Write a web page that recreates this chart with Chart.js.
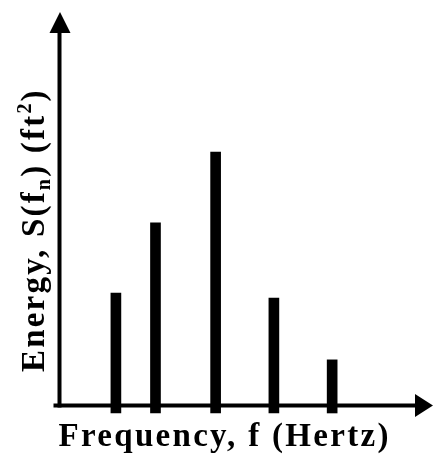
<!DOCTYPE html>
<html>
<head>
<meta charset="utf-8">
<script src="https://cdn.jsdelivr.net/npm/chart.js@4.4.1/dist/chart.umd.min.js"></script>
<style>
  html, body { margin: 0; padding: 0; background: #fff; }
  #wrap { width: 434px; height: 455px; }
</style>
</head>
<body>
<div id="wrap"><canvas id="spectrum" width="434" height="455"></canvas></div>
<script>
// values (arbitrary units, axes have no ticks)
const frequencies = [1.51, 2.57, 4.18, 5.74, 7.30];
const energies = [2.86, 4.64, 6.44, 2.73, 1.16];
const xRange = [0, 10];
const yRange = [0, 10];

const xTitle = [{ t: 'Frequency, f (Hertz)' }];
const yTitle = [
  { t: 'Energy, S(f' },
  { t: 'n', sub: true },
  { t: ') (ft' },
  { t: '2', sup: true },
  { t: ')' }
];

const FONT = "'Liberation Serif', 'DejaVu Serif', serif";

// draws a title made of pieces, some as sub/superscript
function drawRich(ctx, parts, size, spacing) {
  let x = 0;
  parts.forEach(p => {
    const s = (p.sub || p.sup) ? Math.round(size * 0.62) : size;
    ctx.font = `bold ${s}px ${FONT}`;
    ctx.letterSpacing = spacing + 'px';
    let dy = 0;
    if (p.sub) dy = size * 0.18;
    if (p.sup) dy = -size * 0.4;
    ctx.fillText(p.t, x, dy);
    x += ctx.measureText(p.t).width;
  });
}

const axesPlugin = {
  id: 'arrowAxes',
  beforeDatasetsDraw(chart) {
    const { ctx, chartArea: a } = chart;
    ctx.save();
    ctx.strokeStyle = '#000';
    ctx.fillStyle = '#000';
    ctx.lineWidth = 4;

    // vertical axis
    ctx.beginPath();
    ctx.moveTo(a.left, a.bottom + 2);
    ctx.lineTo(a.left, a.top + 18);
    ctx.stroke();
    ctx.beginPath();
    ctx.moveTo(a.left + 0.5, a.top);
    ctx.lineTo(a.left + 11, a.top + 21);
    ctx.lineTo(a.left - 10, a.top + 21);
    ctx.closePath();
    ctx.fill();

    // horizontal axis
    ctx.beginPath();
    ctx.moveTo(a.left - 6, a.bottom);
    ctx.lineTo(a.right - 16, a.bottom);
    ctx.stroke();
    ctx.beginPath();
    ctx.moveTo(a.right, a.bottom);
    ctx.lineTo(a.right - 18, a.bottom - 11.5);
    ctx.lineTo(a.right - 18, a.bottom + 11.5);
    ctx.closePath();
    ctx.fill();
    ctx.restore();
  },
  afterDraw(chart) {
    const { ctx, chartArea: a } = chart;
    ctx.save();
    ctx.fillStyle = '#000';
    ctx.textBaseline = 'alphabetic';

    ctx.save();
    ctx.translate(a.left - 1, a.bottom + 40);
    drawRich(ctx, xTitle, 33, 2.3);
    ctx.restore();

    ctx.save();
    ctx.translate(a.left - 15.5, a.bottom - 33.5);
    ctx.rotate(-Math.PI / 2);
    drawRich(ctx, yTitle, 33, 2.2);
    ctx.restore();

    ctx.restore();
  }
};

new Chart(document.getElementById('spectrum'), {
  type: 'bar',
  data: {
    datasets: [{
      data: frequencies.map((f, i) => ({ x: f, y: energies[i] })),
      backgroundColor: '#000',
      borderWidth: 0,
      barThickness: 10,
      base: -0.19,
      clip: false
    }]
  },
  options: {
    responsive: false,
    animation: false,
    layout: { padding: { left: 59.5, top: 12, right: 1, bottom: 49.5 } },
    scales: {
      x: { type: 'linear', min: xRange[0], max: xRange[1], offset: false, display: false },
      y: { min: yRange[0], max: yRange[1], display: false }
    },
    plugins: {
      legend: { display: false },
      tooltip: { enabled: false }
    }
  },
  plugins: [axesPlugin]
});
</script>
</body>
</html>
